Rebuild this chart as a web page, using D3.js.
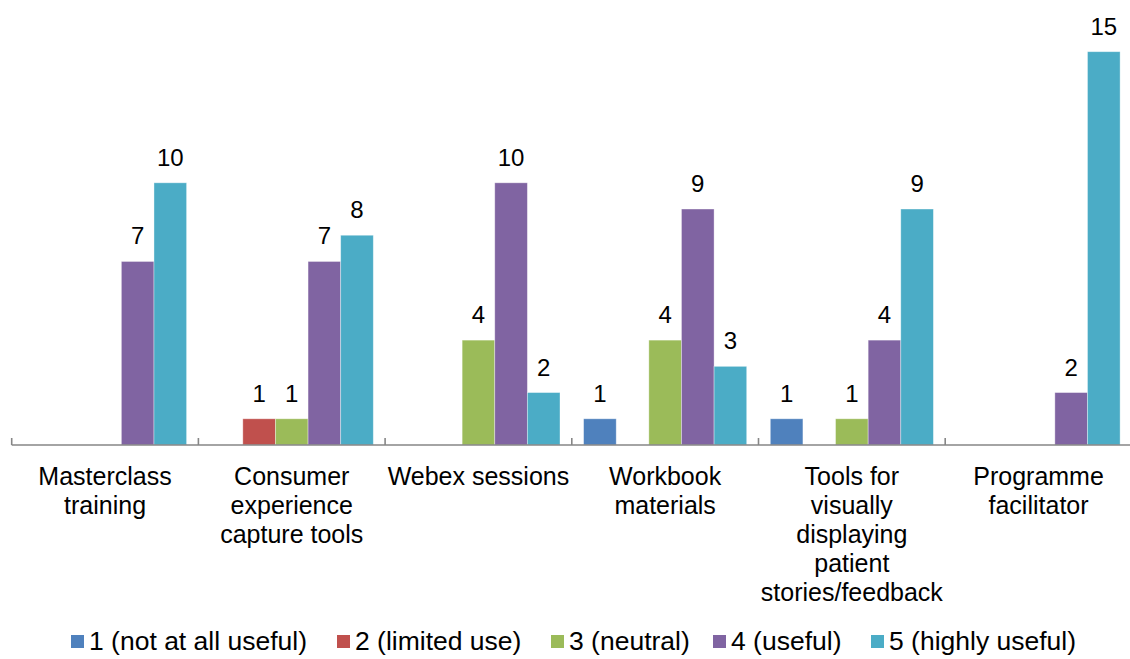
<!DOCTYPE html>
<html>
<head>
<meta charset="utf-8">
<script src="https://cdn.jsdelivr.net/npm/d3@7/dist/d3.min.js"></script>
<style>
  html, body { margin: 0; padding: 0; background: #fff; }
  svg { display: block; font-family: "Liberation Sans", Arial, sans-serif; }
</style>
</head>
<body>
<svg id="chart" width="1130" height="659"></svg>
<script>
// Usefulness ratings of programme components (number of respondents)
const categories = [
  "Masterclass training",
  "Consumer experience capture tools",
  "Webex sessions",
  "Workbook materials",
  "Tools for visually displaying patient stories/feedback",
  "Programme facilitator"
];
// Wrapped axis labels, one array entry per line
const categoryLines = [
  ["Masterclass", "training"],
  ["Consumer", "experience", "capture tools"],
  ["Webex sessions"],
  ["Workbook", "materials"],
  ["Tools for", "visually", "displaying", "patient", "stories/feedback"],
  ["Programme", "facilitator"]
];
const seriesNames = [
  "1 (not at all useful)",
  "2 (limited use)",
  "3 (neutral)",
  "4 (useful)",
  "5 (highly useful)"
];
const notAtAllUseful = [0, 0, 0, 1, 1, 0];
const limitedUse     = [0, 1, 0, 0, 0, 0];
const neutral        = [0, 1, 4, 4, 1, 0];
const useful         = [7, 7, 10, 9, 4, 2];
const highlyUseful   = [10, 8, 2, 3, 9, 15];
const seriesColors = ["#4F81BD", "#C0504D", "#9BBB59", "#8064A2", "#4BACC6"];

const seriesValues = [notAtAllUseful, limitedUse, neutral, useful, highlyUseful];

const svg = d3.select("#chart");
const baseY = 445;
const left = 11.7, step = 186.7;

const x = d3.scaleBand()
  .domain(categories)
  .range([left, left + step * categories.length])
  .padding(0);

const x1 = d3.scaleBand()
  .domain(seriesNames)
  .range([11.8, step - 11.8])
  .padding(0);

const y = d3.scaleLinear()
  .domain([0, 15])
  .range([baseY, 51.7]);

// Flatten into one record per bar
const bars = [];
categories.forEach((c, ci) => {
  seriesNames.forEach((s, si) => {
    bars.push({ category: c, series: s, si, value: seriesValues[si][ci] });
  });
});
const shown = bars.filter(d => d.value > 0);

const g = svg.append("g");

g.selectAll("rect.bar")
  .data(shown)
  .join("rect")
  .attr("class", "bar")
  .attr("x", d => x(d.category) + x1(d.series))
  .attr("y", d => y(d.value))
  .attr("width", x1.bandwidth())
  .attr("height", d => baseY - y(d.value))
  .attr("fill", d => seriesColors[d.si])
  .attr("stroke", "#ffffff")
  .attr("stroke-opacity", 0.45)
  .attr("stroke-width", 0.8);

// Value labels above each bar
g.selectAll("text.val")
  .data(shown)
  .join("text")
  .attr("class", "val")
  .attr("x", d => x(d.category) + x1(d.series) + x1.bandwidth() / 2)
  .attr("y", d => y(d.value) - 17)
  .attr("text-anchor", "middle")
  .attr("font-size", 24)
  .attr("fill", "#000")
  .text(d => d.value);

// Category axis: baseline with tick marks at category boundaries
const axis = svg.append("g");
axis.append("line")
  .attr("x1", left).attr("x2", 1130)
  .attr("y1", baseY).attr("y2", baseY)
  .attr("stroke", "#868686").attr("stroke-width", 1.6);

const boundaries = categories.map(c => x(c)).concat([x.range()[1]]);
axis.selectAll("line.tick")
  .data(boundaries)
  .join("line")
  .attr("class", "tick")
  .attr("x1", d => d).attr("x2", d => d)
  .attr("y1", baseY).attr("y2", baseY - 7)
  .attr("stroke", "#868686").attr("stroke-width", 1.6);

const labels = axis.selectAll("text.cat")
  .data(categories)
  .join("text")
  .attr("class", "cat")
  .attr("text-anchor", "middle")
  .attr("font-size", 25)
  .attr("fill", "#000");
labels.each(function (c, i) {
  const t = d3.select(this);
  categoryLines[i].forEach((line, li) => {
    t.append("tspan")
      .attr("x", x(c) + x.bandwidth() / 2)
      .attr("y", 485 + li * 29)
      .text(line);
  });
});

// Legend
const legendX = [71, 337, 551, 713, 871];
const legend = svg.append("g");
const items = legend.selectAll("g.item")
  .data(seriesNames)
  .join("g")
  .attr("class", "item")
  .attr("transform", (d, i) => `translate(${legendX[i]},641)`);
items.append("rect")
  .attr("x", 0).attr("y", -6)
  .attr("width", 13).attr("height", 13)
  .attr("fill", (d, i) => seriesColors[i]);
items.append("text")
  .attr("x", 18).attr("y", 9)
  .attr("font-size", 26.5)
  .attr("fill", "#000")
  .text(d => d);
</script>
</body>
</html>
